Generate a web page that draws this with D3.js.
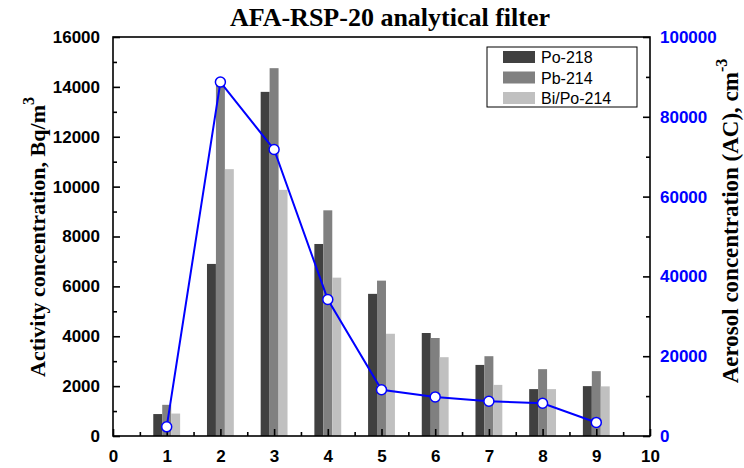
<!DOCTYPE html>
<html>
<head>
<meta charset="utf-8">
<script src="https://cdn.jsdelivr.net/npm/d3@7"></script>
<style>
  body { margin: 0; background: #fff; }
  svg { display: block; }
</style>
</head>
<body>
<svg id="chart" width="744" height="468"></svg>
<script>
// ---- Data ----
const categories = [1, 2, 3, 4, 5, 6, 7, 8, 9];
const seriesNames = ["Po-218", "Pb-214", "Bi/Po-214"];
const po218 = [880, 6900, 13800, 7700, 5700, 4130, 2850, 1880, 2000];
const pb214 = [1250, 14100, 14750, 9050, 6230, 3930, 3200, 2680, 2600];
const bipo214 = [900, 10700, 9870, 6350, 4100, 3160, 2050, 1880, 1990];
const aerosol = [2300, 88700, 71800, 34200, 11600, 9800, 8700, 8200, 3400];
const xTicks = [0, 1, 2, 3, 4, 5, 6, 7, 8, 9, 10];
const yLeftTicks = [0, 2000, 4000, 6000, 8000, 10000, 12000, 14000, 16000];
const yRightTicks = [0, 20000, 40000, 60000, 80000, 100000];

const seriesValues = [po218, pb214, bipo214];
const colors = ["#404040", "#808080", "#c0c0c0"];

// ---- Layout ----
const svg = d3.select("#chart");
const L = 113, R = 650, T = 37, B = 436;

const x = d3.scaleLinear().domain([0, 10]).range([L, R]);
const y = d3.scaleLinear().domain([0, 16000]).range([B, T]);
const y2 = d3.scaleLinear().domain([0, 100000]).range([B, T]);

const barW = 1 / 6; // in x units
const g = svg.append("g");

// bars
seriesValues.forEach((vals, si) => {
  g.selectAll(".bar" + si)
    .data(categories.map((c, i) => ({ c, v: vals[i] })))
    .enter().append("rect")
    .attr("x", d => x(d.c - 0.25 + si * barW))
    .attr("width", d => x(barW) - x(0))
    .attr("y", d => y(d.v))
    .attr("height", d => y(0) - y(d.v))
    .attr("fill", colors[si]);
});

// frame
svg.append("rect")
  .attr("x", L).attr("y", T).attr("width", R - L).attr("height", B - T)
  .attr("fill", "none").attr("stroke", "#000").attr("stroke-width", 1.6);

const tickFont = "Liberation Sans, Arial, sans-serif";
const tickSize = 17;

// bottom axis
const xAxis = d3.axisBottom(x).tickValues(xTicks).tickSize(-7).tickPadding(14)
  .tickFormat(d3.format("d"));
const gx = svg.append("g").attr("transform", `translate(0,${B})`).call(xAxis);
gx.select(".domain").remove();
gx.selectAll("line").attr("stroke-width", 1.6);
gx.selectAll("text").attr("font-family", tickFont).attr("font-weight", "bold")
  .attr("font-size", tickSize).attr("fill", "#000");
const xMinor = d3.axisBottom(x).tickValues(d3.range(0.5, 10, 1)).tickSize(-4).tickFormat("");
const gxm = svg.append("g").attr("transform", `translate(0,${B})`).call(xMinor);
gxm.select(".domain").remove();
gxm.selectAll("line").attr("stroke-width", 1.6);

// left axis
const yAxis = d3.axisLeft(y).tickValues(yLeftTicks).tickSize(-7).tickPadding(13)
  .tickFormat(d3.format("d"));
const gy = svg.append("g").attr("transform", `translate(${L},0)`).call(yAxis);
gy.select(".domain").remove();
gy.selectAll("line").attr("stroke-width", 1.6);
gy.selectAll("text").attr("font-family", tickFont).attr("font-weight", "bold")
  .attr("font-size", tickSize).attr("fill", "#000");
const yMinor = d3.axisLeft(y).tickValues(d3.range(1000, 16000, 2000)).tickSize(-4).tickFormat("");
const gym = svg.append("g").attr("transform", `translate(${L},0)`).call(yMinor);
gym.select(".domain").remove();
gym.selectAll("line").attr("stroke-width", 1.6);

// right axis
const y2Axis = d3.axisRight(y2).tickValues(yRightTicks).tickSize(-7).tickPadding(10)
  .tickFormat(d3.format("d"));
const gy2 = svg.append("g").attr("transform", `translate(${R},0)`).call(y2Axis);
gy2.select(".domain").remove();
gy2.selectAll("line").attr("stroke-width", 1.6).attr("stroke", "#000");
gy2.selectAll("text").attr("font-family", tickFont).attr("font-weight", "bold")
  .attr("font-size", tickSize).attr("fill", "#0000ff");
const y2Minor = d3.axisRight(y2).tickValues(d3.range(10000, 100000, 20000)).tickSize(-4).tickFormat("");
const gy2m = svg.append("g").attr("transform", `translate(${R},0)`).call(y2Minor);
gy2m.select(".domain").remove();
gy2m.selectAll("line").attr("stroke-width", 1.6);

// aerosol line
const line = d3.line().x((d, i) => x(categories[i])).y(d => y2(d));
svg.append("path").datum(aerosol).attr("d", line)
  .attr("fill", "none").attr("stroke", "#0000ff").attr("stroke-width", 2);
svg.selectAll(".pt").data(aerosol).enter().append("circle")
  .attr("cx", (d, i) => x(categories[i])).attr("cy", d => y2(d)).attr("r", 5)
  .attr("fill", "#fff").attr("stroke", "#0000ff").attr("stroke-width", 1.5);

// title
const serif = "Liberation Serif, Times New Roman, serif";
svg.append("text").attr("x", 390).attr("y", 26).attr("text-anchor", "middle")
  .attr("font-family", serif).attr("font-weight", "bold").attr("font-size", 26)
  .text("AFA-RSP-20 analytical filter");

// left title
const lt = svg.append("text").attr("transform", "translate(45,237) rotate(-90)")
  .attr("text-anchor", "middle").attr("font-family", serif).attr("font-weight", "bold")
  .attr("font-size", 22);
lt.append("tspan").text("Activity concentration, Bq/m");
lt.append("tspan").attr("dy", -11).attr("font-size", 16).text("3");

// right title
const rt = svg.append("text").attr("transform", "translate(738,221) rotate(-90)")
  .attr("text-anchor", "middle").attr("font-family", serif).attr("font-weight", "bold")
  .attr("font-size", 23);
rt.append("tspan").text("Aerosol concentration (AC), cm");
rt.append("tspan").attr("dy", -11).attr("font-size", 16).text("-3");

// legend
const lg = svg.append("g");
lg.append("rect").attr("x", 487).attr("y", 47).attr("width", 150).attr("height", 60)
  .attr("fill", "#fff").attr("stroke", "#000").attr("stroke-width", 1);
seriesNames.forEach((n, i) => {
  const cy = 57 + i * 20.5;
  lg.append("rect").attr("x", 503).attr("y", cy - 6).attr("width", 32).attr("height", 12)
    .attr("fill", colors[i]);
  lg.append("text").attr("x", 541).attr("y", cy + 6)
    .attr("font-family", tickFont).attr("font-size", 16).attr("fill", "#000").text(n);
});
</script>
</body>
</html>
